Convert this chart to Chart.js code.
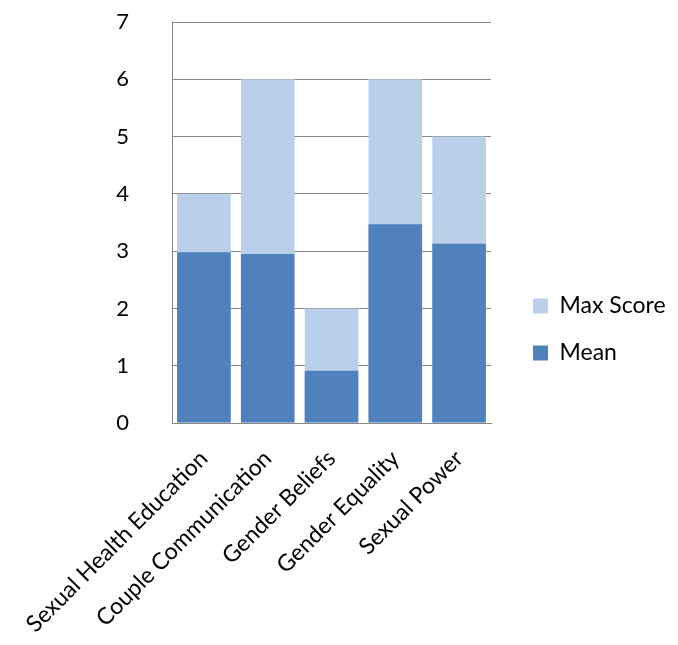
<!DOCTYPE html>
<html>
<head>
<meta charset="utf-8">
<script src="https://cdn.jsdelivr.net/npm/chart.js@4/dist/chart.umd.min.js"></script>
<style>
  html, body { margin: 0; padding: 0; background: #fff; }
  #wrap { width: 678px; height: 645px; }
</style>
</head>
<body>
<div id="wrap"><canvas id="c" width="678" height="645"></canvas></div>
<script>
const categories = ['Sexual Health Education', 'Couple Communication', 'Gender Beliefs', 'Gender Equality', 'Sexual Power'];
const meanValues = [2.98, 2.95, 0.91, 3.47, 3.13];
const maxScores = [4, 6, 2, 6, 5];
const yTicks = [0, 1, 2, 3, 4, 5, 6, 7];

const font = "Lato, 'Open Sans', sans-serif";
const gridGray = '#868686';

// legend box: fixed width, and pushed a bit right of the plot
const legendPlace = {
  id: 'legendPlace',
  beforeLayout(chart) {
    const lg = chart.legend;
    if (lg && !lg._patched) {
      const fit = lg.fit.bind(lg);
      lg.fit = function () { fit(); this.width = 187; };
      lg._patched = true;
    }
  },
  afterLayout(chart) {
    const lg = chart.legend;
    lg.left += 18;
    lg.right += 18;
    lg.top -= 4;
    lg.bottom -= 4;
  }
};

new Chart(document.getElementById('c'), {
  type: 'bar',
  data: {
    labels: categories,
    datasets: [
      { label: 'Mean', data: meanValues, backgroundColor: '#4F81BD', barPercentage: 0.84, categoryPercentage: 1 },
      { label: 'Max Score', data: maxScores, backgroundColor: '#B9CFEA', barPercentage: 0.84, categoryPercentage: 1 }
    ]
  },
  plugins: [legendPlace],
  options: {
    responsive: false,
    animation: false,
    layout: { padding: { left: 0, right: 0, top: 22, bottom: 0 } },
    plugins: {
      tooltip: { enabled: false },
      legend: {
        position: 'right',
        reverse: true,
        labels: { boxWidth: 15, boxHeight: 15, padding: 24, color: '#000', font: { family: font, size: 23 } }
      }
    },
    scales: {
      x: {
        stacked: true,
        grid: { display: false },
        border: { color: gridGray, width: 1 },
        ticks: { color: '#000', padding: 14, font: { family: font, size: 23 }, minRotation: 45, maxRotation: 45, autoSkip: false },
        afterFit: s => { s.height = 222; s.paddingLeft = 0; s.paddingRight = 0; }
      },
      y: {
        stacked: false,
        min: 0, max: 7,
        afterBuildTicks: s => { s.ticks = yTicks.map(v => ({ value: v })); },
        grid: { color: gridGray, lineWidth: 1, drawTicks: false },
        border: { color: gridGray, width: 1 },
        ticks: { color: '#000', padding: 43, font: { family: font, size: 22 } },
        afterFit: s => { s.width = 172; s.paddingTop = 0; s.paddingBottom = 0; }
      }
    }
  }
});
</script>
</body>
</html>
